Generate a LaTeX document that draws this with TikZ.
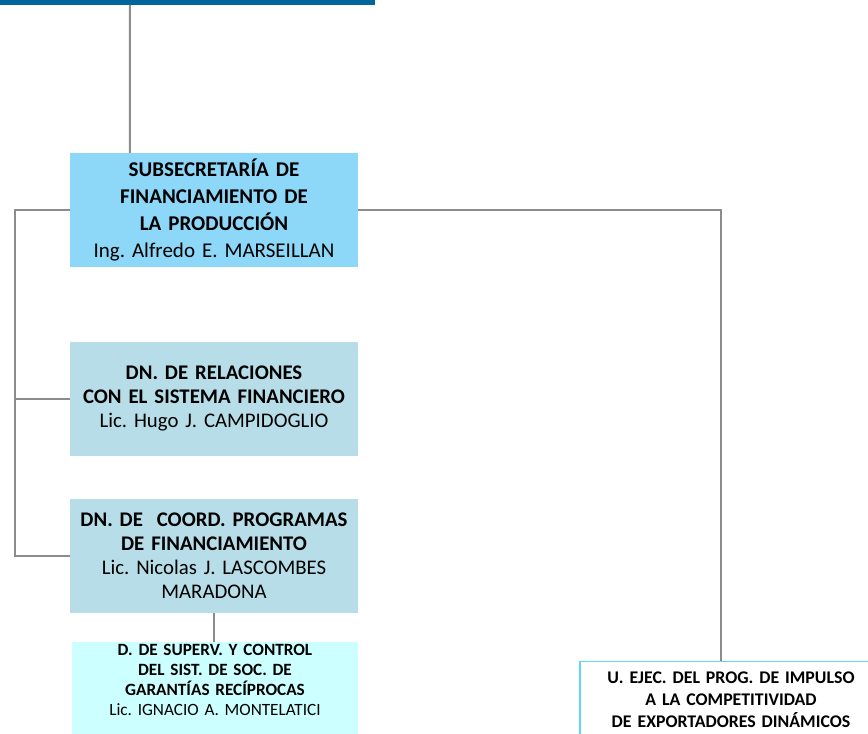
\documentclass[tikz,border=0pt]{standalone}
\usepackage{fontspec}
\setmainfont{Carlito}
\usepackage{xcolor}
\definecolor{barblue}{HTML}{00669C}
\definecolor{subblue}{HTML}{8DD8F8}
\definecolor{dnaqua}{HTML}{B7DEE8}
\definecolor{dpale}{HTML}{CCFFFF}
\definecolor{ucyan}{HTML}{5FD9F5}
\definecolor{linegray}{HTML}{8C8C8C}
\usetikzlibrary{positioning}
\frenchspacing

\begin{document}
\begin{tikzpicture}[
  x=1pt, y=-1pt,
  node distance=43pt,
  box/.style={align=center, inner sep=2pt, text width=284pt, minimum width=288pt, minimum height=114pt},
  sub/.style={box, fill=subblue, font=\fontsize{21}{26.7}\selectfont},
  dn/.style={box, fill=dnaqua, font=\fontsize{20.8}{24}\selectfont},
  dsub/.style={box, fill=dpale, text width=282pt, minimum width=286pt, minimum height=0pt, inner ysep=2pt, text depth=90pt, anchor=north, font=\fontsize{17.2}{20}\selectfont},
  unit/.style={box, draw=ucyan, line width=1.2pt, fill=white, text width=298pt, minimum width=302pt, minimum height=0pt, inner ysep=10pt, text depth=70pt, anchor=north, font=\fontsize{17.8}{22}\selectfont},
  conn/.style={draw=linegray, line width=2pt},
]
\useasboundingbox (0,0) rectangle (868,734);

% --- top bar and head ------------------------------------------------------
\node[fill=barblue, inner sep=0pt, minimum width=375pt, minimum height=4.5pt, anchor=north west] (bar) at (0,0) {};
\node[sub] (subsec) at (214,210) {\textbf{SUBSECRETARÍA DE}\\\textbf{FINANCIAMIENTO DE}\\\textbf{LA PRODUCCIÓN}\\Ing. Alfredo E. MARSEILLAN};

% --- national directorates, left column ------------------------------------
\node[dn] (rel) at (214,398.5) {\textbf{DN. DE RELACIONES}\\\textbf{CON EL SISTEMA FINANCIERO}\\Lic. Hugo J. CAMPIDOGLIO};
\node[dn, below=of rel] (coord) {\textbf{DN. DE\ \ COORD. PROGRAMAS}\\\textbf{DE FINANCIAMIENTO}\\Lic. Nicolas J. LASCOMBES\\MARADONA};
\node[dsub] (superv) at (215,642) {\textbf{D. DE SUPERV. Y CONTROL}\\\textbf{DEL SIST. DE SOC. DE}\\\textbf{GARANTÍAS RECÍPROCAS}\\Lic. IGNACIO A. MONTELATICI};

% --- executing unit, right -------------------------------------------------
\node[unit] (uejec) at (731,661) {\textbf{U. EJEC. DEL PROG. DE IMPULSO}\\\textbf{A LA COMPETITIVIDAD}\\\textbf{DE EXPORTADORES DINÁMICOS}};

% --- connectors ------------------------------------------------------------
\coordinate (spine) at (15,0);
\draw[conn] ([xshift=130pt]bar.south west) -- ([xshift=60pt]subsec.north west);
\draw[conn] (subsec.west) -| (spine |- coord.west) -- (coord.west);
\draw[conn] (rel.west) -- (rel.west -| spine);
\draw[conn] (subsec.east) -| ([xshift=142pt]uejec.north west);
\draw[conn] (coord.south) -- (coord.south |- superv.north);
\end{tikzpicture}
\end{document}
